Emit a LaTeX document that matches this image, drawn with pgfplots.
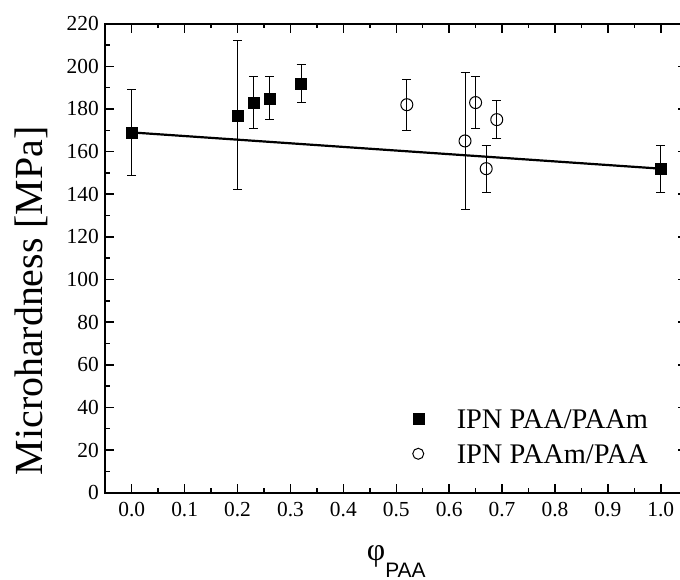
\documentclass[border=0pt]{standalone}
\usepackage{pgfplots}
\pgfplotsset{compat=1.18}
\usepackage{fontspec}
\setmainfont{Liberation Serif}
\newfontfamily\timesfont{Liberation Serif}
\newfontfamily\arialfont{Liberation Sans}

\begin{document}
\begin{tikzpicture}
\begin{axis}[
  scale only axis, width=581.9bp, height=469bp,
  xmin=-0.05, xmax=1.05, ymin=0, ymax=220,
  xtick={0,0.1,0.2,0.3,0.4,0.5,0.6,0.7,0.8,0.9,1.0},
  xticklabels={0.0,0.1,0.2,0.3,0.4,0.5,0.6,0.7,0.8,0.9,1.0},
  ytick={0,20,40,60,80,100,120,140,160,180,200,220},
  yticklabels={0,20,40,60,80,100,120,140,160,180,200,220},
  minor x tick num=1, minor y tick num=1,
  tick align=inside, major tick length=9bp, minor tick length=4.5bp,
  tick style={line width=1.5bp, black},
  axis line style={line width=2bp},
  /pgf/number format/assume math mode=true,
  ticklabel style={font=\timesfont\fontsize{21.5}{24}\selectfont},
  xticklabel style={yshift=-6bp},
  yticklabel style={xshift=-3bp},
  xlabel={{\timesfont\fontsize{32}{32}\selectfont φ}\raisebox{-17bp}{\arialfont\fontsize{21}{21}\selectfont PAA}},
  xlabel style={at={(axis description cs:0.5,-0.1435)}, anchor=base},
  ylabel={Microhardness [MPa]},
  ylabel style={at={(axis description cs:-0.1277,0.409)}, anchor=center, font=\timesfont\fontsize{40}{42}\selectfont},
  legend style={draw=none, fill=none, at={(axis cs:0.5312,39.6)}, anchor=north west,
    font=\timesfont\fontsize{28.5}{30}\selectfont, inner sep=0pt, outer sep=0pt,
    row sep=9bp, column sep=33bp, cells={anchor=base west},
    nodes={inner sep=0pt, outer sep=0pt, text height=20bp, text depth=6bp}},
  legend image code/.code={\draw[#1, mark size=5.5bp] plot coordinates {(0bp,9.5bp)};},
]
% fitted line
\addplot[black, line width=2.2bp, no marks, forget plot] coordinates {(0,169) (1,152)};
% error bars (drawn first so markers cover them)
\addplot[draw=none, no marks, forget plot,
  error bars/.cd, y dir=both, y explicit,
  error bar style={line width=1bp, black},
  error mark options={rotate=90, mark size=4.5bp, line width=1bp, black}]
  table[x=x, y=y, y error=e] {
x y e
0.00 169 20
0.20 177 35
0.23 183 12
0.26 185 10
0.32 192 9
1.00 152 11
};
\addplot[draw=none, no marks, forget plot,
  error bars/.cd, y dir=both, y explicit,
  error bar style={line width=1bp, black},
  error mark options={rotate=90, mark size=4.5bp, line width=1bp, black}]
  table[x=x, y=y, y error=e] {
x y e
0.52 182 12
0.63 165 32
0.65 183 12
0.67 152 11
0.69 175 9
};
% markers
\addplot[only marks, mark=square*, mark size=5.5bp, mark options={fill=black, draw=black, line width=0.5bp}]
  table[x=x, y=y] {
x y
0.00 169
0.20 177
0.23 183
0.26 185
0.32 192
1.00 152
};
\addlegendentry{IPN PAA/PAAm}
\addplot[only marks, mark=o, mark size=6bp, mark options={fill=white, draw=black, line width=1bp}]
  table[x=x, y=y] {
x y
0.52 182
0.63 165
0.65 183
0.67 152
0.69 175
};
\addlegendentry{IPN PAAm/PAA}
\end{axis}
\pgfresetboundingbox
\path[use as bounding box] ([shift={(-105.3bp,-87.3bp)}]current axis.south west) rectangle ([shift={(574.7bp,492.7bp)}]current axis.south west);
\end{tikzpicture}
\end{document}
